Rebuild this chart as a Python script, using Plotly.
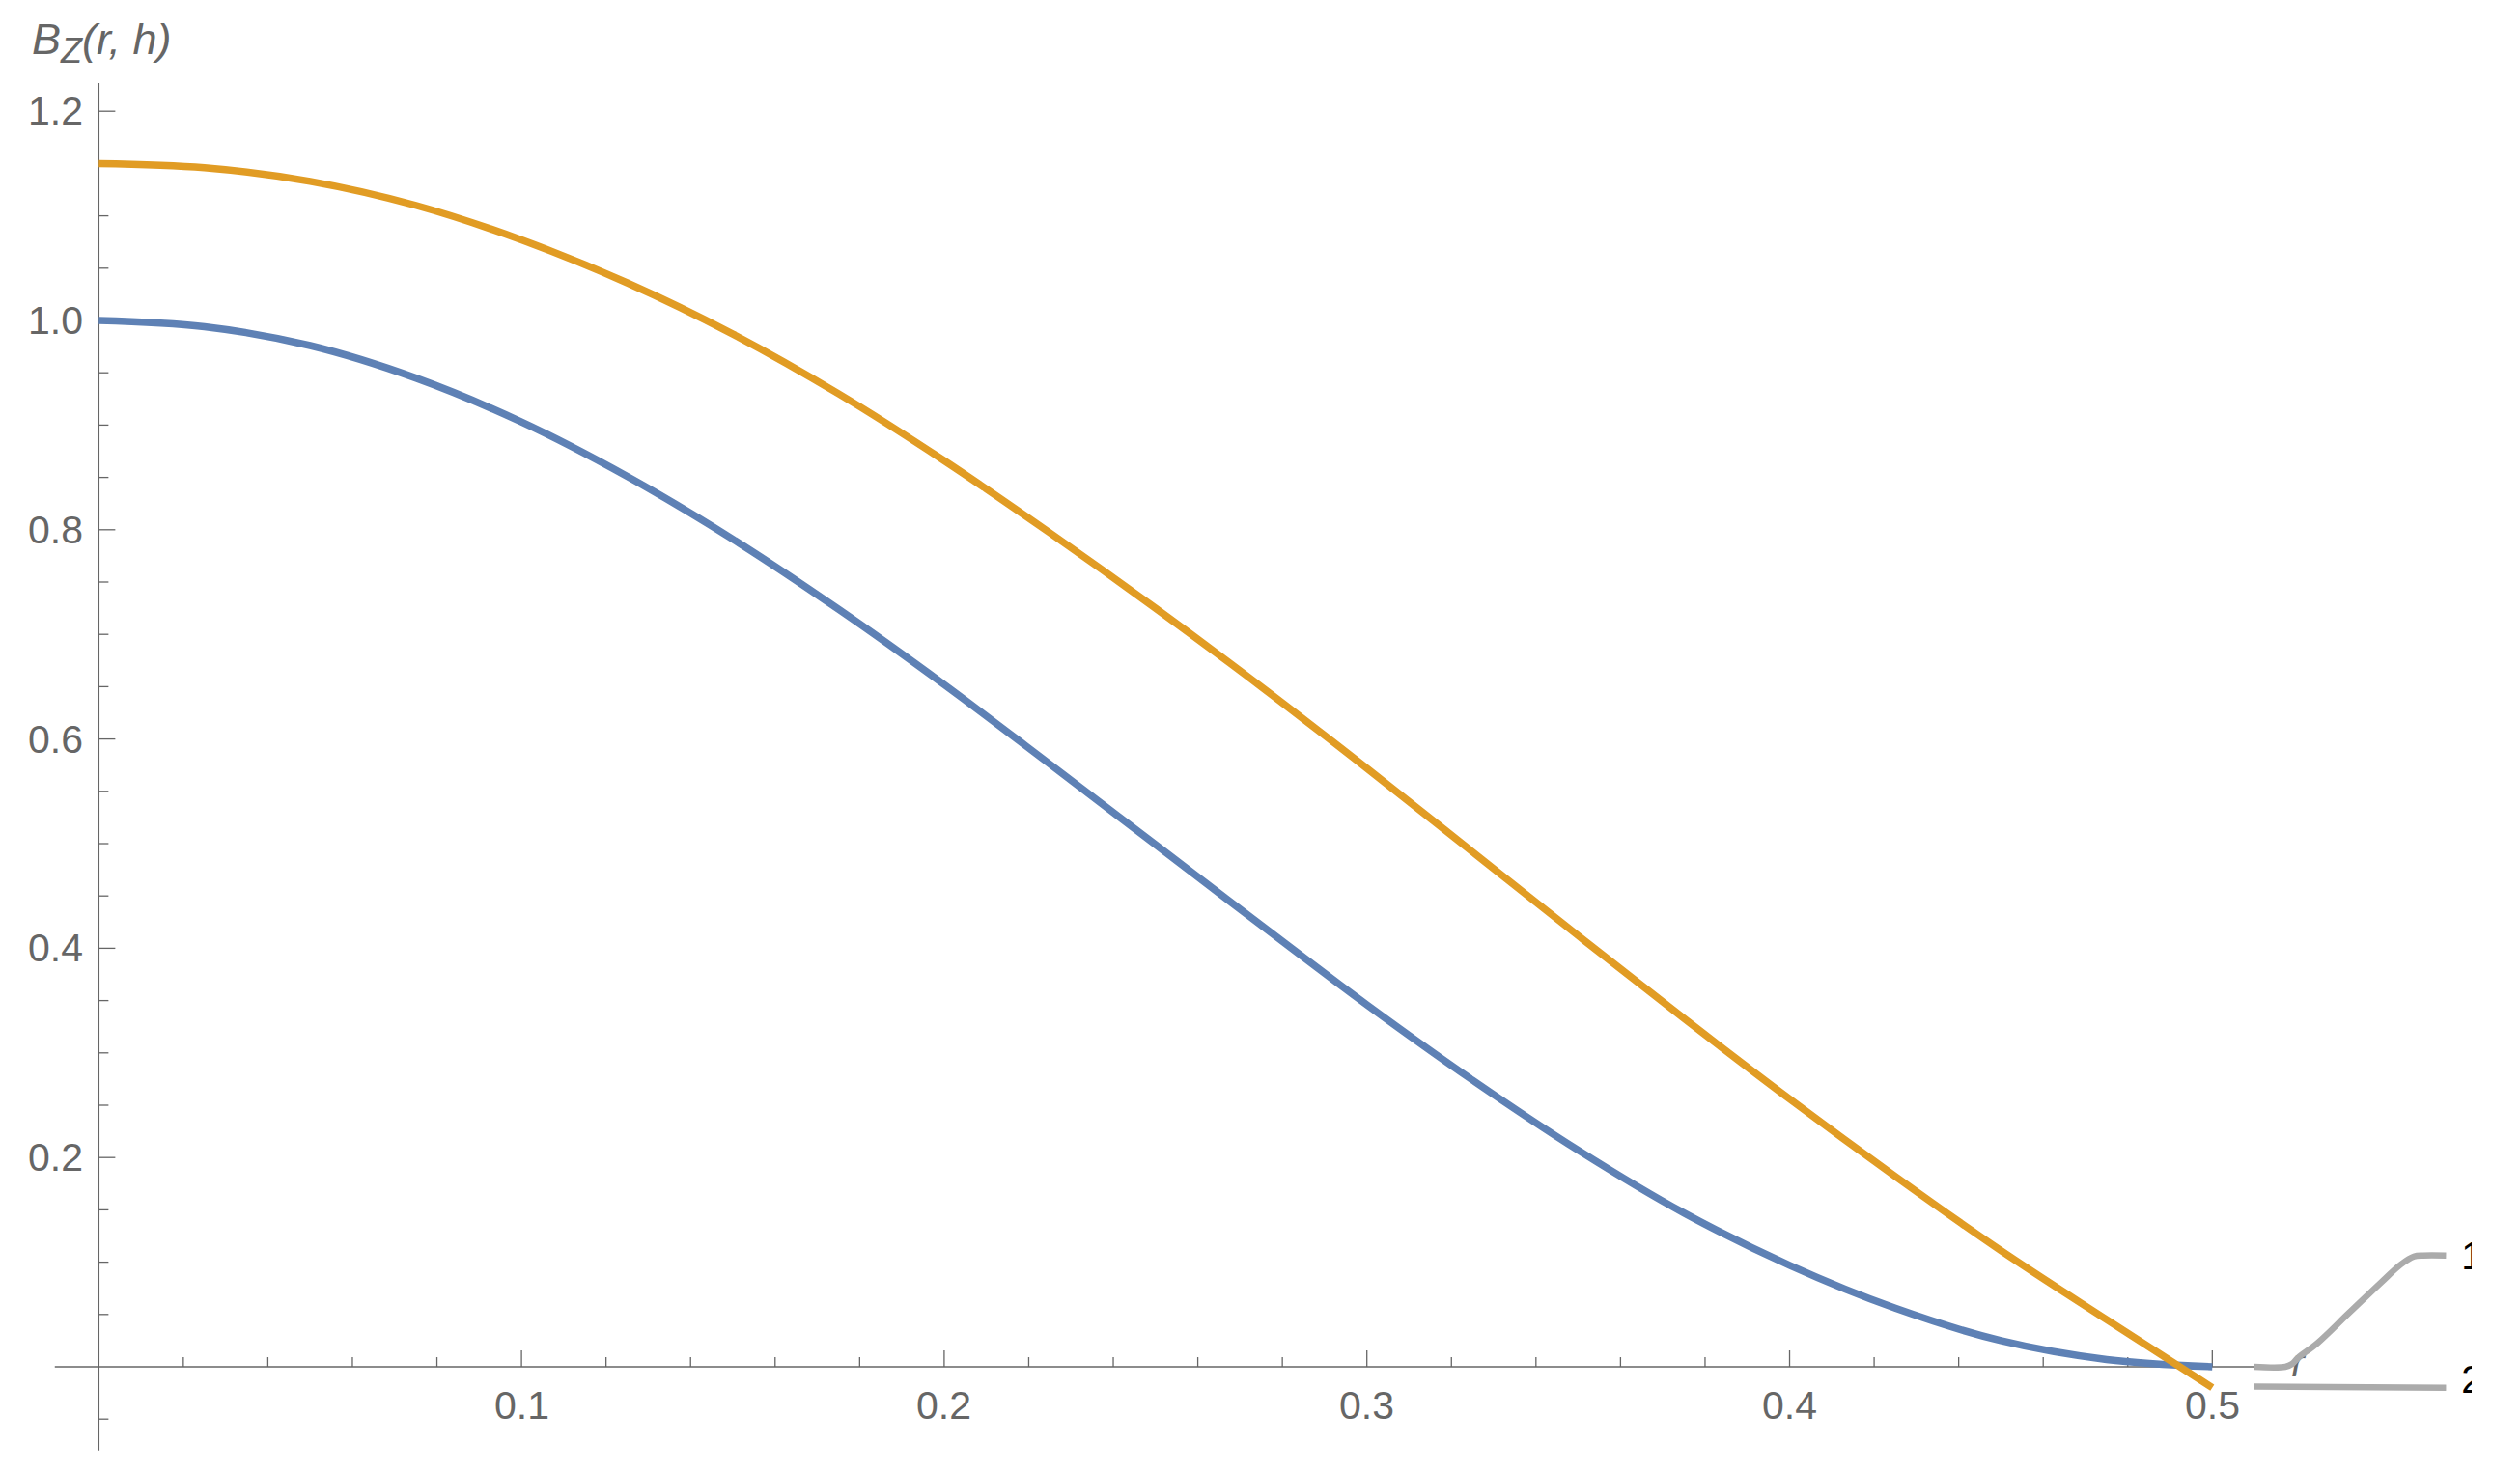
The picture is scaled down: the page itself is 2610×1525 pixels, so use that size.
import plotly.graph_objects as go

#--------------------------------------------------
#   values
#--------------------------------------------------
r_vals = [0.0, 0.025, 0.05, 0.075, 0.1, 0.125, 0.15, 0.175, 0.2, 0.225, 0.25,
          0.275, 0.3, 0.325, 0.35, 0.375, 0.4, 0.425, 0.45, 0.475, 0.5]

# curve 1 (blue)
bz_1 = [1.000, 0.994, 0.976, 0.945, 0.903, 0.851, 0.791, 0.724, 0.652, 0.576, 0.499,
        0.422, 0.346, 0.274, 0.207, 0.147, 0.097, 0.056, 0.025, 0.007, 0.000]
# curve 2 (orange)
bz_2 = [1.150, 1.146, 1.133, 1.110, 1.077, 1.036, 0.987, 0.930, 0.866, 0.797, 0.725,
        0.650, 0.572, 0.492, 0.412, 0.333, 0.256, 0.182, 0.111, 0.045, -0.020]

# callout lines running from the curve ends to the labels "1" and "2"
call1_r = [0.5098, 0.5173, 0.5188, 0.5203, 0.5248, 0.5324, 0.5400, 0.5446, 0.5477, 0.5499, 0.5553]
call1_v = [0.0, 0.0, 0.0025, 0.0086, 0.0224, 0.0517, 0.0809, 0.0978, 0.1054, 0.1064, 0.1064]
call2_r = [0.5098, 0.5553]
call2_v = [-0.019, -0.020]
curve_labels = ['1', '2']

x_tick_vals = [0.1, 0.2, 0.3, 0.4, 0.5]
x_tick_labels = ['0.1', '0.2', '0.3', '0.4', '0.5']
y_tick_vals = [0.2, 0.4, 0.6, 0.8, 1.0, 1.2]
y_tick_labels = ['0.2', '0.4', '0.6', '0.8', '1.0', '1.2']
x_minor = [round(0.02 * i, 2) for i in range(1, 25) if i % 5 != 0]
y_minor = [round(0.05 * i, 2) for i in range(-1, 25) if i % 4 != 0]

#--------------------------------------------------
#   styling
#--------------------------------------------------
blue = '#5E81B5'
orange = '#E19C24'
axis_col = '#666666'
callout_col = '#ABABAB'
font = 'Liberation Sans'

x_min, x_max = -0.0104, 0.5107     # axis line extents
y_min, y_max = -0.08, 1.227
maj_x, min_x = 0.0157, 0.0092      # tick lengths (in y units) for x ticks
maj_y, min_y = 0.0039, 0.0023      # tick lengths (in x units) for y ticks

fig = go.Figure()

# axes
fig.add_trace(go.Scatter(x=[x_min, x_max], y=[0, 0], mode='lines',
                         line=dict(color=axis_col, width=1.5)))
fig.add_trace(go.Scatter(x=[0, 0], y=[y_min, y_max], mode='lines',
                         line=dict(color=axis_col, width=1.5)))

# ticks
tx, ty = [], []
for v in x_tick_vals:
    tx += [v, v, None]
    ty += [0, maj_x, None]
for v in x_minor:
    tx += [v, v, None]
    ty += [0, min_x, None]
for v in y_tick_vals:
    tx += [0, maj_y, None]
    ty += [v, v, None]
for v in y_minor:
    tx += [0, min_y, None]
    ty += [v, v, None]
fig.add_trace(go.Scatter(x=tx, y=ty, mode='lines', line=dict(color=axis_col, width=1.3)))

# axis label r (sits under the callout line)
fig.add_trace(go.Scatter(x=[0.5203], y=[0.0], mode='text', text=['r'],
                         textposition='middle center',
                         textfont=dict(family=font, size=40, color=axis_col, style='italic')))

# callouts
fig.add_trace(go.Scatter(x=call1_r, y=call1_v, mode='lines', line_shape='spline',
                         line=dict(color=callout_col, width=6.5)))
fig.add_trace(go.Scatter(x=call2_r, y=call2_v, mode='lines',
                         line=dict(color=callout_col, width=6.5)))
fig.add_trace(go.Scatter(x=[0.5589, 0.5589], y=[call1_v[-1] - 0.004, call2_v[-1] + 0.004],
                         mode='text', text=curve_labels, textposition='middle right',
                         textfont=dict(family=font, size=40, color='black')))

# curves
fig.add_trace(go.Scatter(x=r_vals, y=bz_1, mode='lines', line_shape='spline',
                         line=dict(color=blue, width=7.5)))
fig.add_trace(go.Scatter(x=r_vals, y=bz_2, mode='lines', line_shape='spline',
                         line=dict(color=orange, width=7.5)))

# tick labels
for v, t in zip(x_tick_vals, x_tick_labels):
    fig.add_annotation(x=v, y=-0.0369, xref='x', yref='y', text=t, showarrow=False,
                       xanchor='center', yanchor='middle',
                       font=dict(family=font, size=41, color=axis_col))
for v, t in zip(y_tick_vals, y_tick_labels):
    fig.add_annotation(x=-0.0033, y=v, xref='x', yref='y', text=t, showarrow=False,
                       xanchor='right', yanchor='middle',
                       font=dict(family=font, size=41, color=axis_col))

# y axis label
fig.add_annotation(x=-0.0163, y=1.2660, xref='x', yref='y', showarrow=False,
                   text='<i>B</i><sub><i><span style="font-size:36px">Z</span></i></sub>'
                        '<i>(r, h)</i>',
                   xanchor='left', yanchor='middle',
                   font=dict(family=font, size=45, color=axis_col))

# the source picture is cut off just right of the labels
fig.add_shape(type='rect', xref='paper', yref='paper', x0=1.0, x1=1.1, y0=-0.1, y1=1.1,
              fillcolor='white', line=dict(width=0), layer='above')

fig.update_layout(
    width=2594, height=1509,
    margin=dict(l=0, r=42, t=0, b=0),
    paper_bgcolor='white', plot_bgcolor='white',
    showlegend=False, hovermode=False,
    xaxis=dict(visible=False, range=[-0.02154, 0.56137]),
    yaxis=dict(visible=False, range=[-0.09317, 1.29889]),
)

fig.write_html('out.html')
